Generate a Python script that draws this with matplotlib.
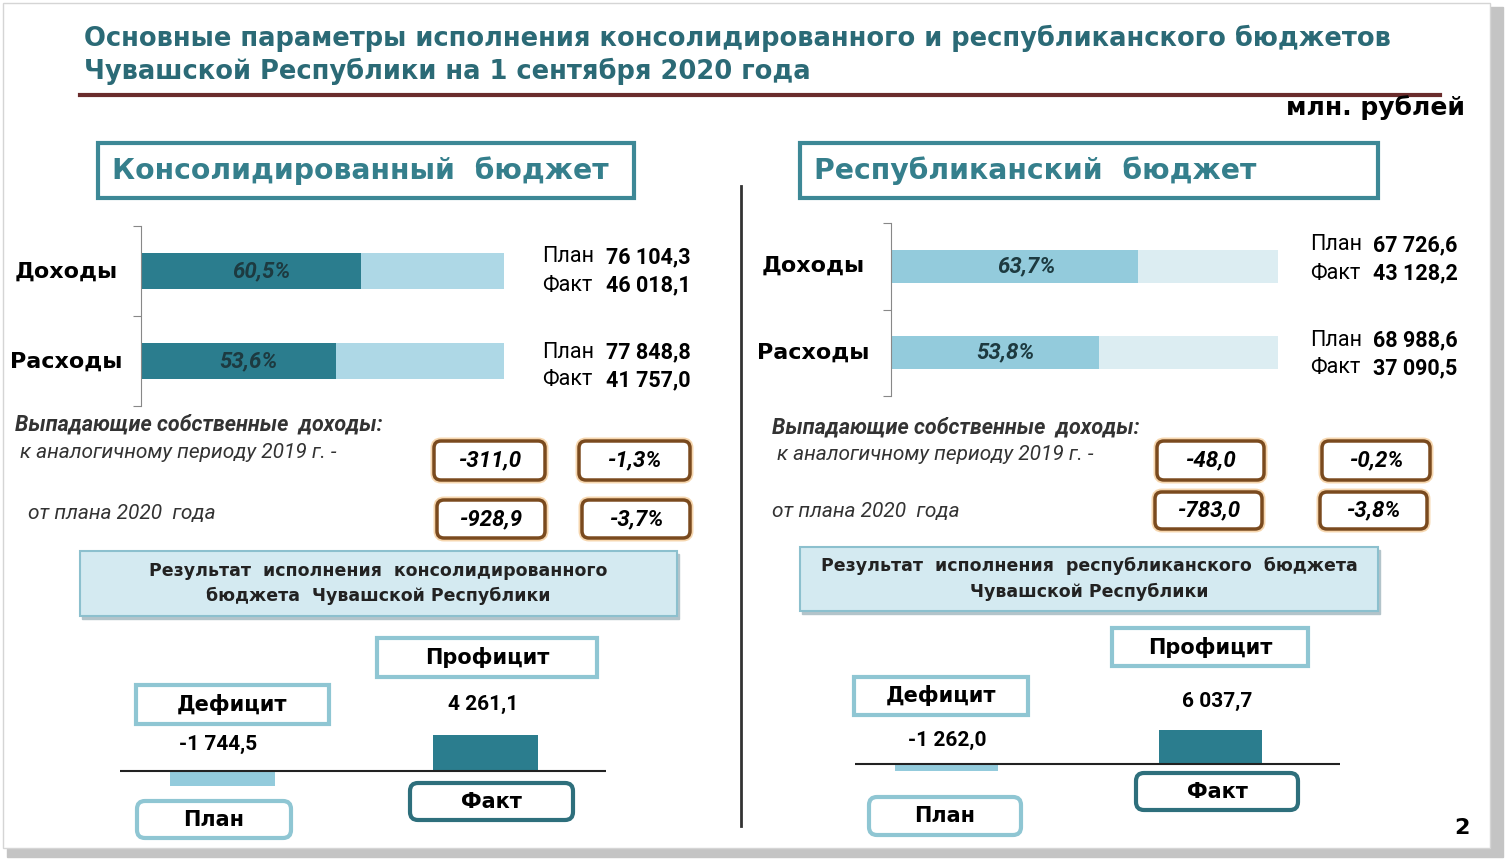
import matplotlib
matplotlib.use("Agg")
import matplotlib.pyplot as plt
from matplotlib.patches import Rectangle, FancyBboxPatch

W, H = 1505, 859

# ---- data ----
categories = ["Доходы", "Расходы"]
balance_labels = ["План", "Факт"]

cons_plan = [76104.3, 77848.8]
cons_fact = [46018.1, 41757.0]
cons_pct = [60.5, 53.6]
cons_loss = [-311.0, -928.9]
cons_loss_pct = [-1.3, -3.7]
cons_balance = [-1744.5, 4261.1]

rep_plan = [67726.6, 68988.6]
rep_fact = [43128.2, 37090.5]
rep_pct = [63.7, 53.8]
rep_loss = [-48.0, -783.0]
rep_loss_pct = [-0.2, -3.8]
rep_balance = [-1262.0, 6037.7]

title = ("Основные параметры исполнения консолидированного и республиканского бюджетов\n"
         "Чувашской Республики на 1 сентября 2020 года")

TEAL = "#2b6a76"
NARROW = ["Liberation Sans Narrow", "Roboto", "DejaVu Sans"]


def ru(v, pct=False):
    s = f"{abs(v):,.1f}".replace(",", " ").replace(".", ",")
    if v < 0:
        s = "-" + s
    return s + "%" if pct else s


def frac(x0, y0, x1, y1):
    return [x0 / W, 1 - y1 / H, (x1 - x0) / W, (y1 - y0) / H]


fig = plt.figure(figsize=(W / 100, H / 100), dpi=100)
ax0 = fig.add_axes([0, 0, 1, 1])
ax0.set_xlim(0, W)
ax0.set_ylim(H, 0)
ax0.axis("off")

# slide frame with shadow
ax0.add_patch(Rectangle((7, 7), 1496, 850, color="#c4c4c4", zorder=0))
ax0.add_patch(Rectangle((3, 3), 1487, 845, facecolor="white", edgecolor="#d5d5d5", lw=1, zorder=0))

ax0.text(84, 55, title, fontsize=18.5, fontweight="bold", color=TEAL, va="center", linespacing=1.3)
ax0.plot([80, 1440], [95, 95], color="#6a2c2c", lw=3)
ax0.text(1465, 108, "млн. рублей", fontsize=18, fontweight="bold", ha="right", va="center")
ax0.plot([741, 741], [186, 826], color="#333333", lw=2)
ax0.text(1462, 828, "2", fontsize=16, fontweight="bold", ha="center", va="center")


def rect_box(x0, y0, x1, y1, text, edge, lw=3, rounded=False, size=15, color="black"):
    if rounded:
        p = FancyBboxPatch((x0, y0), x1 - x0, y1 - y0, boxstyle="round,pad=0,rounding_size=8",
                           facecolor="white", edgecolor=edge, lw=lw, zorder=2)
    else:
        p = Rectangle((x0, y0), x1 - x0, y1 - y0, facecolor="white", edgecolor=edge, lw=lw, zorder=2)
    ax0.add_patch(p)
    ax0.text((x0 + x1) / 2, (y0 + y1) / 2, text, fontsize=size, fontweight="bold",
             ha="center", va="center", color=color, zorder=3)


def panel(L, name, plan, fact, pct, loss, loss_pct, balance, result_lines, dark, light, bal_colors):
    # header
    x0, y0, x1, y1 = L["head"]
    ax0.add_patch(Rectangle((x0, y0), x1 - x0, y1 - y0, facecolor="white", edgecolor="#3d8896", lw=3))
    ax0.text(L["head_tx"], (y0 + y1) / 2, name, fontsize=20.3, fontweight="bold", color="#357f8c", va="center")

    # plan / fact bars
    ax = fig.add_axes(frac(*L["bars"]))
    ax.patch.set_alpha(0)
    ypos = range(len(categories))
    ax.barh(ypos, [100] * len(pct), height=L["bh"], color=light)
    ax.barh(ypos, pct, height=L["bh"], color=dark)
    for i, p in enumerate(pct):
        ax.text(p * 0.55, i, ru(p, pct=True), ha="center", va="center", fontsize=16,
                family=NARROW, color="#1d3a40", style="italic", fontweight="bold")
    ax.set_xlim(0, 100)
    ax.set_ylim(1.5, -0.5)
    ax.set_xticks([])
    ax.set_yticks([-0.5, 0.5, 1.5])
    ax.set_yticklabels([])
    ax.tick_params(axis="y", length=6, color="#888888")
    for s in ["top", "right", "bottom"]:
        ax.spines[s].set_visible(False)
    ax.spines["left"].set_color("#888888")

    for i, c in enumerate(categories):
        ax0.text(L["cat_x"], L["cat_y"][i], c, fontsize=16, fontweight="bold", ha="center", va="center")
        yp, yf = L["pf_y"][i]
        ax0.text(L["pf_x"], yp, "План", fontsize=15.5, family=NARROW, va="center")
        ax0.text(L["val_x"], yp, ru(plan[i]), fontsize=15.5, family=NARROW, fontweight="bold", va="center")
        ax0.text(L["pf_x"], yf, "Факт", fontsize=15.5, family=NARROW, va="center")
        ax0.text(L["val_x"], yf, ru(fact[i]), fontsize=15.5, family=NARROW, fontweight="bold", va="center")

    # falling own revenues
    tx, ty = L["loss_title"]
    ax0.text(tx, ty, "Выпадающие собственные  доходы:", fontsize=15.5, family=NARROW, fontweight="bold",
             style="italic", color="#333333", va="center")
    tx, ty = L["loss_r1"]
    ax0.text(tx, ty, "к аналогичному периоду 2019 г. -", fontsize=15, family=NARROW, style="italic",
             color="#333333", va="center")
    tx, ty = L["loss_r2"]
    ax0.text(tx, ty, "от плана 2020  года", fontsize=15, family=NARROW, style="italic",
             color="#333333", va="center")
    for i in range(2):
        for j, txt in enumerate([ru(loss[i]), ru(loss_pct[i], pct=True)]):
            bx0, by0, bx1, by1 = L["loss_boxes"][i][j]
            ax0.add_patch(FancyBboxPatch((bx0, by0), bx1 - bx0, by1 - by0,
                                         boxstyle="round,pad=0,rounding_size=7",
                                         facecolor="none", edgecolor="#f6d6ae", lw=5, zorder=2))
            ax0.add_patch(FancyBboxPatch((bx0, by0), bx1 - bx0, by1 - by0,
                                         boxstyle="round,pad=0,rounding_size=7",
                                         facecolor="white", edgecolor="#7a4a1e", lw=2.5, zorder=2))
            ax0.text((bx0 + bx1) / 2, (by0 + by1) / 2, txt, fontsize=16, family=NARROW,
                     fontweight="bold", style="italic", ha="center", va="center", zorder=3)

    # result box
    x0, y0, x1, y1 = L["result"]
    ax0.add_patch(Rectangle((x0 + 2, y0 + 3), x1 - x0, y1 - y0, color="#b3c4ca", zorder=1))
    ax0.add_patch(Rectangle((x0, y0), x1 - x0, y1 - y0, facecolor="#d4eaf1", edgecolor="#8cc0ce", lw=1.5, zorder=1))
    ax0.text((x0 + x1) / 2, (y0 + y1) / 2, "\n".join(result_lines), fontsize=12.5, fontweight="bold",
             ha="center", va="center", linespacing=1.5, color="#222222", zorder=2)

    # deficit / profit
    rect_box(*L["profit"], "Профицит", "#8fc6d3")
    rect_box(*L["deficit"], "Дефицит", "#8fc6d3")
    rect_box(*L["plan_box"], balance_labels[0], "#8fc6d3", rounded=True)
    rect_box(*L["fact_box"], balance_labels[1], "#2e6f7c", rounded=True)

    bx0, bx1 = L["bal_x"]
    c0, c1 = L["bal_c"]
    base = L["base_y"]
    unit = c1 - c0
    scale = L["bal_scale"]
    ab = fig.add_axes(frac(bx0, base - 60, bx1, base + 30))
    ab.patch.set_alpha(0)
    ab.bar([0, 1], balance, width=L["bal_w"] / unit, color=bal_colors)
    ab.axhline(0, color="#222222", lw=1.5)
    ab.set_xlim((bx0 - c0) / unit, (bx1 - c0) / unit)
    ab.set_ylim(-30 * scale, 60 * scale)
    ab.axis("off")
    for i, v in enumerate(balance):
        tx, ty = L["bal_txt"][i]
        ax0.text(tx, ty, ru(v), fontsize=15, family=NARROW, fontweight="bold", ha="center", va="center")


left = dict(
    head=(98, 143, 634, 198), head_tx=112,
    bars=(141, 226, 504, 406), bh=0.41,
    cat_x=66, cat_y=(272, 362),
    pf_x=542, val_x=606, pf_y=((257, 285), (352, 380)),
    loss_title=(15, 425), loss_r1=(20, 452), loss_r2=(28, 514),
    loss_boxes=(((434, 441, 545, 480), (579, 441, 690, 480)),
                ((437, 500, 545, 538), (582, 500, 690, 538))),
    result=(80, 551, 677, 616),
    profit=(377, 638, 597, 677), deficit=(136, 685, 329, 724),
    plan_box=(137, 801, 291, 838), fact_box=(410, 783, 573, 820),
    bal_x=(120, 606), bal_c=(223, 486), base_y=771, bal_w=105,
    bal_scale=cons_balance[1] / 36,
    bal_txt=((218, 744), (483, 704)),
)
right = dict(
    head=(800, 143, 1378, 198), head_tx=814,
    bars=(891, 223, 1278, 396), bh=0.38,
    cat_x=813, cat_y=(266, 353),
    pf_x=1310, val_x=1373, pf_y=((245, 273), (340, 368)),
    loss_title=(772, 428), loss_r1=(777, 455), loss_r2=(772, 512),
    loss_boxes=(((1157, 441, 1264, 480), (1322, 441, 1430, 480)),
                ((1155, 492, 1262, 529), (1320, 492, 1427, 529))),
    result=(800, 547, 1378, 611),
    profit=(1112, 628, 1308, 666), deficit=(854, 677, 1028, 715),
    plan_box=(869, 797, 1021, 835), fact_box=(1136, 773, 1298, 810),
    bal_x=(855, 1340), bal_c=(947, 1210), base_y=764, bal_w=103,
    bal_scale=rep_balance[1] / 34,
    bal_txt=((947, 740), (1217, 701)),
)

panel(left, "Консолидированный  бюджет", cons_plan, cons_fact, cons_pct, cons_loss, cons_loss_pct,
      cons_balance, ["Результат  исполнения  консолидированного", "бюджета  Чувашской Республики"],
      "#2b7d8e", "#aed8e6", ["#93cbdc", "#2b7d8e"])
panel(right, "Республиканский  бюджет", rep_plan, rep_fact, rep_pct, rep_loss, rep_loss_pct,
      rep_balance, ["Результат  исполнения  республиканского  бюджета", "Чувашской Республики"],
      "#93cbdc", "#dcedf2", ["#93cbdc", "#2b7d8e"])

fig.savefig("out.png", dpi=100)
